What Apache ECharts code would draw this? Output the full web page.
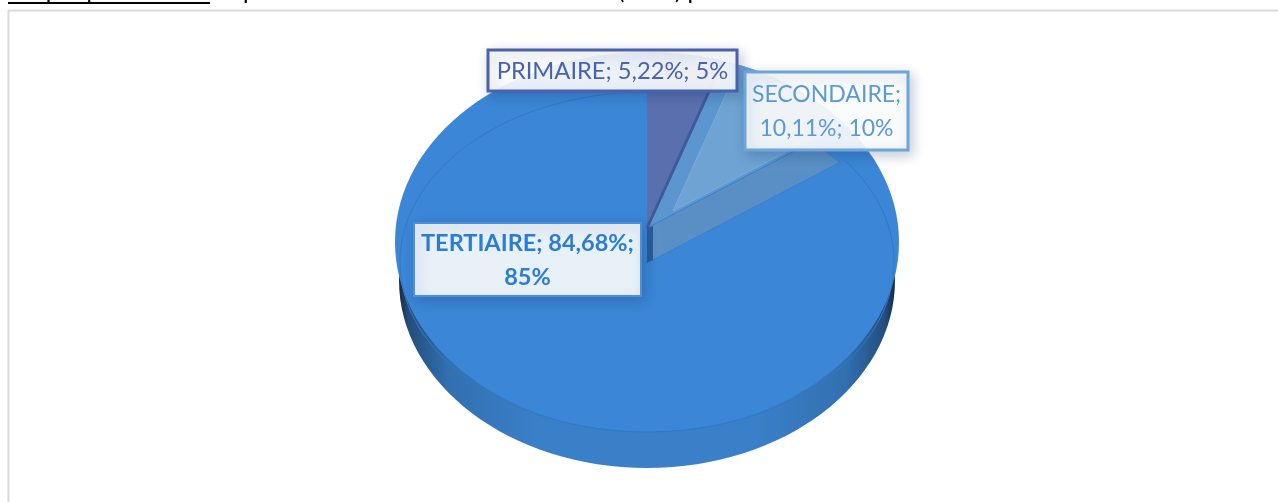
<!DOCTYPE html>
<html>
<head>
<meta charset="utf-8">
<style>
  html, body { margin: 0; padding: 0; background: #fff; overflow: hidden; }
  #chart { width: 1278px; height: 502px; }
</style>
<script src="https://cdn.jsdelivr.net/npm/echarts@6/dist/echarts.min.js"></script>
</head>
<body>
<div id="chart"></div>
<script>
const categories = ["PRIMAIRE", "SECONDAIRE", "TERTIAIRE"];
const shares = [5.22, 10.11, 84.68];
const rounded = [5, 10, 85];

// ellipse du dessus, du rebord et du dessous du camembert
const top_ = { cx: 647, cy: 242, rx: 252, ry: 190 };
const rim = { cx: 647, cy: 262, rx: 247, ry: 170 };
const bottom = { cx: 647, cy: 280, rx: 248, ry: 188 };
const squash = 0.75; // perspective des rayons
const wallReach = 0.975;

const total = shares.reduce((a, b) => a + b, 0);
const toAngle = (v) => (v / total) * Math.PI * 2;
const a1 = toAngle(shares[0]);
const a2 = a1 + toAngle(shares[1]);

// point ou le rayon parti de apex coupe l'ellipse
function rayHit(apex, ang, e) {
  const dx = Math.sin(ang);
  const dy = -squash * Math.cos(ang);
  const ox = (apex[0] - e.cx) / e.rx;
  const oy = (apex[1] - e.cy) / e.ry;
  const ux = dx / e.rx;
  const uy = dy / e.ry;
  const a = ux * ux + uy * uy;
  const b = 2 * (ox * ux + oy * uy);
  const c = ox * ox + oy * oy - 1;
  const t = (-b + Math.sqrt(b * b - 4 * a * c)) / (2 * a);
  return [apex[0] + dx * t, apex[1] + dy * t];
}

function arcPts(e, from, to) {
  let a = Math.atan2((from[0] - e.cx) / e.rx, -(from[1] - e.cy) / e.ry);
  let b = Math.atan2((to[0] - e.cx) / e.rx, -(to[1] - e.cy) / e.ry);
  if (a < 0) a += Math.PI * 2;
  if (b <= a) b += Math.PI * 2;
  const pts = [];
  for (let i = 0; i <= 120; i++) {
    const t = a + ((b - a) * i) / 120;
    pts.push([e.cx + e.rx * Math.sin(t), e.cy - e.ry * Math.cos(t)]);
  }
  return pts;
}

function slice(apex, from, to, e) {
  return [apex].concat(arcPts(e, rayHit(apex, from, e), rayHit(apex, to, e)));
}

function lerp(p, q, t) {
  return [p[0] + (q[0] - p[0]) * t, p[1] + (q[1] - p[1]) * t];
}

function poly(points, style, z2) {
  return { type: "polygon", shape: { points }, style, z2: z2 || 0 };
}

function labelBox(box, color, opts) {
  return [
    {
      type: "rect",
      shape: { x: box.x, y: box.y, width: box.w, height: box.h },
      style: {
        fill: opts.fill,
        stroke: opts.border,
        lineWidth: opts.lw,
        shadowBlur: 12,
        shadowOffsetX: 3,
        shadowOffsetY: 4,
        shadowColor: "rgba(20,50,100,0.25)",
      },
      z2: 30,
    },
    {
      type: "text",
      x: box.x + box.w / 2,
      y: box.y + box.h / 2 + 1,
      style: {
        text: opts.text,
        fill: color,
        font: (opts.bold ? "bold " : "") + opts.size + "px Lato",
        align: "center",
        verticalAlign: "middle",
        lineHeight: 34,
      },
      z2: 31,
    },
  ];
}

function pct(i) {
  return shares[i].toFixed(2).replace(".", ",") + "%";
}

const apexLow = [647, 263];
const apexMid = [647, 228];
const apexGlass = [673, 211];

const chart = echarts.init(document.getElementById("chart"));

function renderSlice(params) {
  const i = params.dataIndex;
  if (i === 2) {
    return {
      type: "group",
      children: [
        {
          type: "ellipse",
          shape: { cx: bottom.cx, cy: bottom.cy, rx: bottom.rx, ry: bottom.ry },
          style: {
            fill: new echarts.graphic.LinearGradient(0, 0, 1, 0, [
              { offset: 0, color: "#142a44" },
              { offset: 0.02, color: "#234e7e" },
              { offset: 0.1, color: "#3270b0" },
              { offset: 0.28, color: "#3a80c8" },
              { offset: 0.72, color: "#3a80c8" },
              { offset: 0.9, color: "#3270b0" },
              { offset: 0.98, color: "#234e7e" },
              { offset: 1, color: "#142a44" },
            ]),
          },
          z2: 1,
        },
        {
          type: "ellipse",
          shape: { cx: top_.cx, cy: top_.cy, rx: top_.rx, ry: top_.ry },
          style: { fill: "#3b86d6" },
          z2: 2,
        },
        {
          type: "polyline",
          shape: { points: arcPts(rim, rayHit(apexLow, a2, rim), rayHit(apexLow, Math.PI * 2, rim)) },
          style: { fill: null, stroke: "#3378c4", lineWidth: 1 },
          z2: 3,
        },
        ...labelBox({ x: 414, y: 223, w: 227, h: 73 }, "#2b7cd9", {
          text: categories[i] + "; " + pct(i) + ";\n" + rounded[i] + "%",
          fill: "#e8f0f8",
          border: "#4a90da",
          lw: 2,
          bold: true,
          size: 23.5,
        }),
      ],
    };
  }
  if (i === 1) {
    const hitLow = lerp(apexLow, rayHit(apexLow, a2, rim), wallReach);
    const hitMid = lerp(apexMid, rayHit(apexMid, a2, rim), wallReach);
    return {
      type: "group",
      children: [
        poly(slice(apexMid, a1, a2, top_), { fill: "#5b96cf" }, 4),
        poly([apexMid, hitMid, hitLow, apexLow], { fill: "#5a8fc5", stroke: "#3b80cc", lineWidth: 1 }, 5),
        poly([apexMid, [apexMid[0] + 6, apexMid[1] - 2], [apexLow[0] + 6, apexLow[1] - 3], apexLow], { fill: "#2a5c9c" }, 6),
        poly(slice(apexGlass, a1, a2, top_), { fill: "#6ea3d3", stroke: "#7cacd8", lineWidth: 1 }, 7),
        ...labelBox({ x: 745, y: 72, w: 163, h: 78 }, "#5b9bd5", {
          text: categories[i] + ";\n" + pct(i) + "; " + rounded[i] + "%",
          fill: "rgba(255,255,255,0.9)",
          border: "#6ea6d8",
          lw: 3,
          size: 23,
        }),
      ],
    };
  }
  const edge = rayHit(apexMid, a1, top_);
  return {
    type: "group",
    children: [
      poly(slice(apexMid, 0, a1, top_), { fill: "#5a70ae" }, 8),
      {
        type: "line",
        shape: { x1: apexMid[0], y1: apexMid[1], x2: edge[0], y2: edge[1] },
        style: { stroke: "#3f5a9b", lineWidth: 3 },
        z2: 9,
      },
      ...labelBox({ x: 488, y: 50, w: 249, h: 41 }, "#4a62ab", {
        text: categories[i] + "; " + pct(i) + "; " + rounded[i] + "%",
        fill: "rgba(255,255,255,0.9)",
        border: "#4a62ab",
        lw: 3,
        size: 23.7,
      }),
    ],
  };
}

// titre coupe par le haut de la capture
function headerText(text, x) {
  return {
    type: "text",
    x: x,
    y: 3,
    style: { text: text, fill: "#000", font: "24px Lato", align: "left", verticalAlign: "bottom" },
  };
}

chart.setOption({
  animation: false,
  backgroundColor: "#fff",
  graphic: [
    {
      type: "rect",
      shape: { x: 8.5, y: 10.5, width: 1300, height: 520 },
      style: { fill: "#fff", stroke: "#d9d9d9", lineWidth: 2 },
    },
    headerText("Graphique", 8),
    { type: "rect", shape: { x: 8, y: 2, width: 202, height: 2 }, style: { fill: "#000" } },
    headerText("Répartition des", 216),
    headerText("(PME) par secteur", 618),
  ],
  series: [
    {
      type: "custom",
      coordinateSystem: "none",
      clip: false,
      renderItem: renderSlice,
      data: categories.map((name, i) => ({ name, value: shares[i] })),
    },
  ],
});
</script>
</body>
</html>
